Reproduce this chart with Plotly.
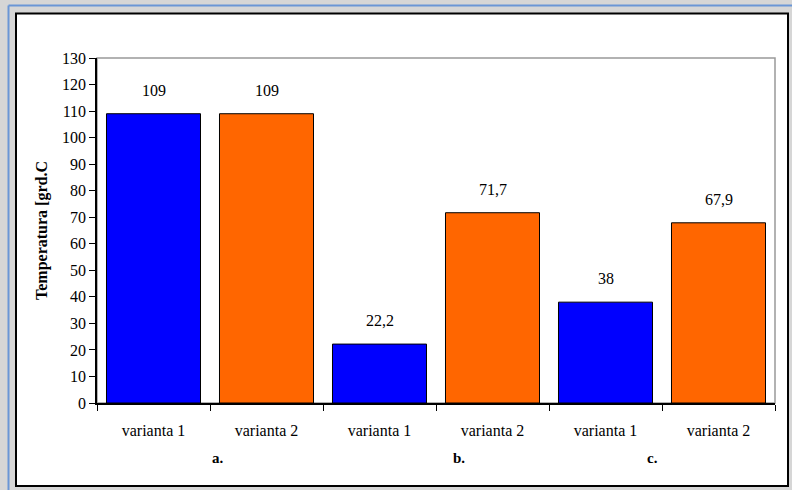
import plotly.graph_objects as go

categories = ["varianta 1", "varianta 2", "varianta 1", "varianta 2", "varianta 1", "varianta 2"]
values = [109, 109, 22.2, 71.7, 38, 67.9]
bar_colors = ["#0000FF", "#FF6600", "#0000FF", "#FF6600", "#0000FF", "#FF6600"]
groups = ["a.", "b.", "c."]
group_pos = [0.57, 2.70, 4.42]
y_ticks = list(range(0, 131, 10))

FONT = "Liberation Serif"
xs = list(range(len(values)))
labels = [("%g" % v).replace(".", ",") for v in values]

fig = go.Figure()
fig.add_trace(go.Bar(
    x=xs, y=values,
    marker=dict(color=bar_colors, line=dict(color="black", width=1)),
    hoverinfo="skip",
))

annotations = []
for x, v, t in zip(xs, values, labels):
    annotations.append(dict(x=x, y=v, xref="x", yref="y", text=t, showarrow=False,
                            yanchor="bottom", yshift=13,
                            font=dict(family=FONT, size=16, color="black")))
for g, p in zip(groups, group_pos):
    annotations.append(dict(x=p, y=-0.16, xref="x", yref="paper", text="<b>%s</b>" % g,
                            showarrow=False, yanchor="middle",
                            font=dict(family=FONT, size=15, color="black")))

shapes = [
    dict(type="line", xref="paper", yref="paper", x0=-97/678 + 8.5/678, x1=-97/678 + 8.5/678,
         y0=-87/345, y1=(403 - 5.5) / 345, line=dict(color="#6a96d6", width=2), layer="below"),
    dict(type="line", xref="paper", yref="paper", x0=-97/678 + 8.5/678, x1=(792 - 97) / 678,
         y0=(403 - 5.5) / 345, y1=(403 - 5.5) / 345, line=dict(color="#6a96d6", width=2), layer="below"),
    dict(type="rect", xref="paper", yref="paper",
         x0=(16 - 97) / 678, x1=(788 - 97) / 678,
         y0=(403 - 486) / 345, y1=(403 - 13.5) / 345,
         fillcolor="white", line=dict(color="black", width=2), layer="below"),
    dict(type="rect", xref="paper", yref="paper", x0=0, x1=1, y0=0, y1=1,
         line=dict(color="#999999", width=1.5), fillcolor="rgba(0,0,0,0)", layer="below"),
]

fig.update_layout(
    width=792, height=490,
    margin=dict(l=97, r=17, t=58, b=87),
    paper_bgcolor="#d6d6d6",
    plot_bgcolor="white",
    showlegend=False,
    bargap=0.168,
    font=dict(family=FONT, color="black"),
    annotations=annotations,
    shapes=shapes,
    xaxis=dict(
        range=[-0.5, 5.5], tickmode="array", tickvals=xs, ticktext=categories,
        ticks="", showgrid=False, zeroline=False,
        showline=True, linecolor="black", linewidth=1.5,
        tickfont=dict(family=FONT, size=16, color="black"),
        ticklabelstandoff=12,
        minor=dict(tickmode="linear", tick0=-0.5, dtick=1, ticks="outside",
                   ticklen=6, tickcolor="black", tickwidth=1, showgrid=False),
    ),
    yaxis=dict(
        range=[0, 130], tickmode="array", tickvals=y_ticks,
        ticks="outside", ticklen=6, tickcolor="black", tickwidth=1,
        showgrid=False, zeroline=False,
        showline=True, linecolor="black", linewidth=1.5,
        tickfont=dict(family=FONT, size=16, color="black"),
        title=dict(text="<b>Temperatura [grd.C</b>", standoff=10,
                   font=dict(family=FONT, size=16, color="black")),
    ),
)

fig.write_html("out.html")
